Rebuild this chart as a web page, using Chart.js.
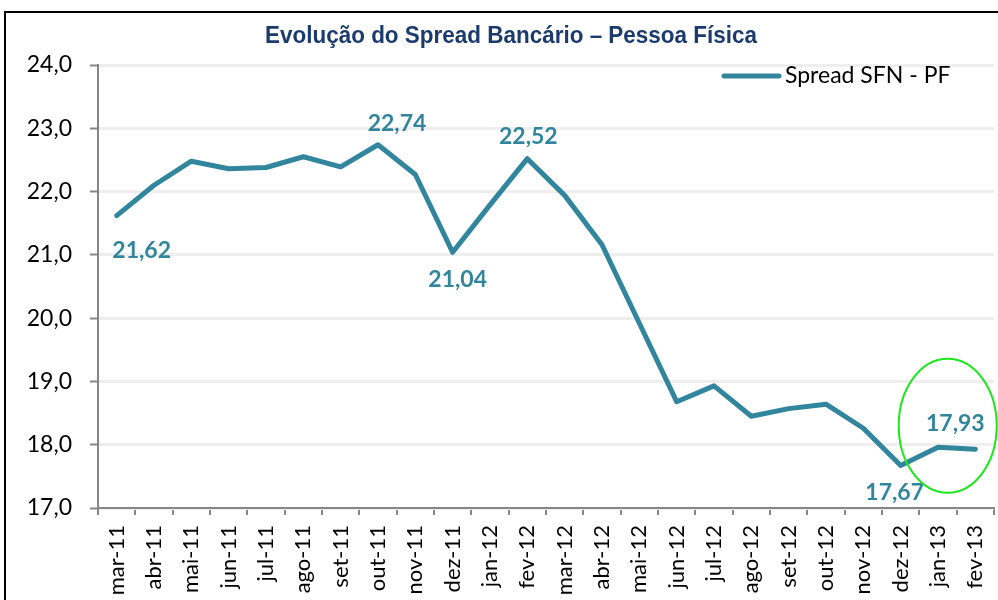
<!DOCTYPE html>
<html>
<head>
<meta charset="utf-8">
<script src="https://cdn.jsdelivr.net/npm/chart.js@4"></script>
<style>
  body { margin: 0; background: #fff; }
  canvas { display: block; }
</style>
</head>
<body>
<canvas id="spreadChart" width="998" height="600"></canvas>
<script>
const chartTitle = "Evolução do Spread Bancário – Pessoa Física";
const seriesName = "Spread SFN - PF";
const months = [
  "mar-11", "abr-11", "mai-11", "jun-11", "jul-11", "ago-11", "set-11", "out-11",
  "nov-11", "dez-11", "jan-12", "fev-12", "mar-12", "abr-12", "mai-12", "jun-12",
  "jul-12", "ago-12", "set-12", "out-12", "nov-12", "dez-12", "jan-13", "fev-13"
];
const spread = [
  21.62, 22.10, 22.48, 22.36, 22.38, 22.55, 22.39, 22.74,
  22.27, 21.04, 21.79, 22.52, 21.94, 21.16, 19.92, 18.68,
  18.93, 18.45, 18.57, 18.64, 18.26, 17.67, 17.96, 17.93
];
const labelledPoints = [0, 7, 9, 11, 21, 23];
const yMin = 17;
const yMax = 24;
const yStep = 1;

const lineColor = "#31859C";
const gray = "#868686";

// where each value label sits, relative to its point (px)
const labelOffsets = {
  0: [25, 35], 7: [19, -21], 9: [5, 27], 11: [1, -22], 21: [-6, 27], 23: [-20, -26]
};

function fmt(v, d) {
  return v.toFixed(d).replace(".", ",");
}

const extras = {
  id: "extras",
  beforeDraw(chart) {
    const ctx = chart.ctx;
    ctx.save();
    // outer frame of the picture
    ctx.strokeStyle = "#000";
    ctx.lineWidth = 2;
    ctx.beginPath();
    ctx.moveTo(5, 600);
    ctx.lineTo(5, 12);
    ctx.lineTo(998, 12);
    ctx.stroke();
    // title
    ctx.fillStyle = "#1B3A6E";
    ctx.font = "bold 23px 'Liberation Sans', Arial";
    ctx.textAlign = "center";
    ctx.textBaseline = "alphabetic";
    ctx.fillText(chartTitle, 511, 43, 492);
    ctx.restore();
  },
  afterDatasetsDraw(chart) {
    const ctx = chart.ctx;
    const meta = chart.getDatasetMeta(0);
    const x = chart.scales.x, y = chart.scales.y;
    ctx.save();

    // legend
    ctx.strokeStyle = lineColor;
    ctx.lineWidth = 5;
    ctx.lineCap = "round";
    ctx.beginPath();
    ctx.moveTo(724, 76);
    ctx.lineTo(779, 76);
    ctx.stroke();
    ctx.fillStyle = "#000";
    ctx.font = "23px Lato";
    ctx.textAlign = "left";
    ctx.textBaseline = "middle";
    ctx.fillText(seriesName, 785, 76);

    // value labels
    ctx.fillStyle = lineColor;
    ctx.font = "bold 23px Lato";
    ctx.textAlign = "center";
    for (const i of labelledPoints) {
      const p = meta.data[i];
      const off = labelOffsets[i] || [0, -20];
      ctx.fillText(fmt(spread[i], 2), p.x + off[0], p.y + off[1]);
    }

    // green ring around the last months
    ctx.strokeStyle = "#1EE61E";
    ctx.lineWidth = 2;
    ctx.beginPath();
    ctx.ellipse(x.getPixelForValue(22.26), y.getPixelForValue(18.3), 49, 67, 0, 0, Math.PI * 2);
    ctx.stroke();
    ctx.restore();
  }
};

const ctx = document.getElementById("spreadChart").getContext("2d");
new Chart(ctx, {
  type: "line",
  data: {
    labels: months,
    datasets: [{
      label: seriesName,
      data: spread,
      borderColor: lineColor,
      backgroundColor: lineColor,
      borderWidth: 5,
      borderCapStyle: "round",
      borderJoinStyle: "round",
      pointRadius: 0,
      tension: 0,
      fill: false
    }]
  },
  options: {
    responsive: false,
    animation: false,
    layout: { padding: { top: 65, right: 4, left: 0, bottom: 0 } },
    plugins: {
      legend: { display: false },
      title: { display: false },
      tooltip: { enabled: false }
    },
    scales: {
      x: {
        offset: true,
        afterFit: (scale) => {
          scale.height = 92;
          // rotated labels shouldn't eat into the plot width
          scale.paddingLeft = 0;
          scale.paddingRight = 0;
        },
        grid: {
          offset: true,
          drawOnChartArea: false,
          drawTicks: true,
          tickLength: 7,
          color: gray,
          lineWidth: 2
        },
        border: { color: gray, width: 2 },
        ticks: {
          color: "#000",
          font: { family: "Lato", size: 22 },
          minRotation: 90,
          maxRotation: 90,
          autoSkip: false,
          padding: 10
        }
      },
      y: {
        min: yMin,
        max: yMax,
        afterFit: (scale) => { scale.width = 98; },
        grid: {
          color: "#EEEEEE",
          lineWidth: 3,
          tickColor: gray,
          tickWidth: 2,
          tickLength: 8
        },
        border: { color: gray, width: 2 },
        ticks: {
          stepSize: yStep,
          color: "#000",
          font: { family: "Lato", size: 23 },
          padding: 18,
          callback: (v) => fmt(v, 1)
        }
      }
    }
  },
  plugins: [extras]
});
</script>
</body>
</html>
